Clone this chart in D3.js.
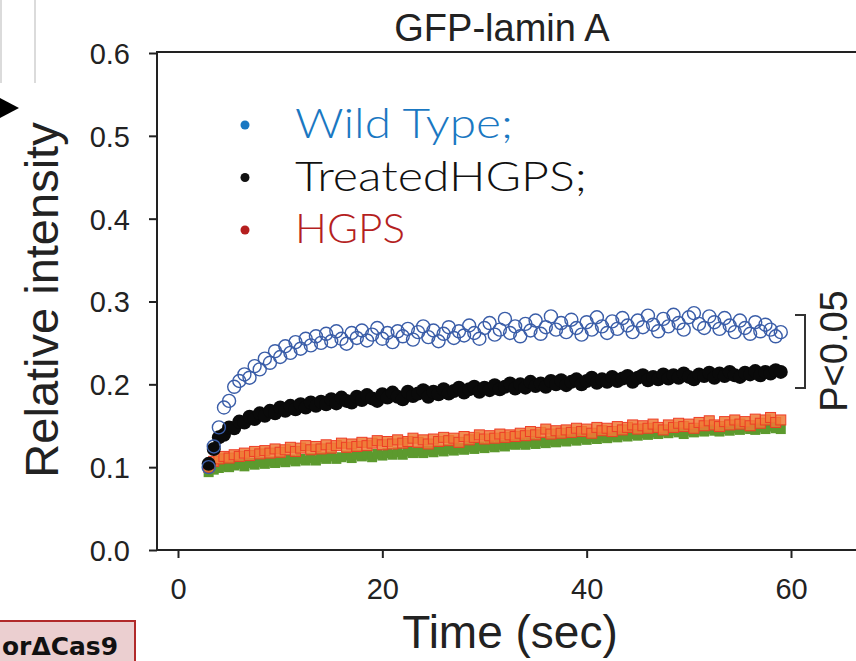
<!DOCTYPE html>
<html>
<head>
<meta charset="utf-8">
<script src="https://cdn.jsdelivr.net/npm/d3@7"></script>
<style>
  body { margin: 0; background: #fff; }
  svg { display: block; }
</style>
</head>
<body>
<div id="chart"></div>
<script>
// sampling: one frame every 0.5 s from 3 s to 59 s
const timeSec = d3.range(3, 59.01, 0.5);

// Wild Type, open blue circles
const wildType = [
  0.100, 0.125, 0.148, 0.172, 0.180, 0.197, 0.204, 0.212, 0.208, 0.222,
  0.218, 0.231, 0.226, 0.240, 0.233, 0.246, 0.238, 0.251, 0.243, 0.255,
  0.247, 0.258, 0.250, 0.261, 0.252, 0.264, 0.255, 0.249, 0.262, 0.256,
  0.265, 0.253, 0.260, 0.268, 0.255, 0.262, 0.251, 0.264, 0.258, 0.267,
  0.254, 0.263, 0.270, 0.257, 0.265, 0.252, 0.261, 0.269, 0.256, 0.264,
  0.259, 0.271, 0.262, 0.255, 0.268, 0.274, 0.260, 0.266, 0.279, 0.262,
  0.270, 0.258, 0.273, 0.265, 0.277, 0.261, 0.269, 0.282, 0.266, 0.274,
  0.263, 0.278, 0.268, 0.260, 0.275, 0.266, 0.281, 0.270, 0.262, 0.276,
  0.267, 0.280, 0.271, 0.263, 0.277, 0.269, 0.283, 0.272, 0.264, 0.279,
  0.270, 0.284, 0.274, 0.266, 0.281, 0.286, 0.273, 0.268, 0.282, 0.275,
  0.267, 0.280, 0.271, 0.263, 0.277, 0.268, 0.261, 0.275, 0.264, 0.272,
  0.266, 0.258, 0.263
];

// Treated HGPS, filled black circles
const treatedHGPS = [
  0.104, 0.122, 0.136, 0.139, 0.148, 0.147, 0.155, 0.154, 0.161, 0.158,
  0.165, 0.162, 0.168, 0.165, 0.172, 0.168, 0.174, 0.170, 0.176, 0.172,
  0.178, 0.174, 0.179, 0.176, 0.182, 0.177, 0.184, 0.180, 0.178, 0.185,
  0.181, 0.187, 0.183, 0.180, 0.188, 0.184, 0.190, 0.185, 0.182, 0.191,
  0.186, 0.189, 0.193, 0.185, 0.191, 0.188, 0.194, 0.189, 0.192, 0.196,
  0.190, 0.194, 0.197, 0.191, 0.196, 0.193, 0.199, 0.194, 0.197, 0.201,
  0.195, 0.200, 0.196, 0.203, 0.198, 0.201, 0.197, 0.204, 0.200, 0.205,
  0.199, 0.203, 0.206, 0.200, 0.204, 0.208, 0.202, 0.206, 0.203, 0.209,
  0.204, 0.207, 0.210, 0.203, 0.208, 0.211, 0.205, 0.209, 0.206, 0.212,
  0.207, 0.211, 0.208, 0.213, 0.209, 0.206, 0.212, 0.210, 0.214, 0.208,
  0.213, 0.210, 0.215, 0.211, 0.209, 0.214, 0.212, 0.216, 0.211, 0.215,
  0.213, 0.217, 0.215
];

// HGPS, open red squares
const hgps = [
  0.100, 0.107, 0.110, 0.113, 0.111, 0.115, 0.113, 0.117, 0.114, 0.119,
  0.116, 0.120, 0.117, 0.122, 0.118, 0.121, 0.124, 0.119, 0.123, 0.126,
  0.121, 0.125, 0.122, 0.127, 0.123, 0.126, 0.129, 0.124, 0.128, 0.125,
  0.130, 0.126, 0.129, 0.132, 0.127, 0.131, 0.128, 0.133, 0.129, 0.131,
  0.135, 0.130, 0.133, 0.128, 0.134, 0.131, 0.136, 0.132, 0.135, 0.130,
  0.137, 0.133, 0.136, 0.139, 0.134, 0.138, 0.135, 0.140, 0.136, 0.139,
  0.137, 0.141, 0.138, 0.143, 0.139, 0.142, 0.146, 0.140, 0.144, 0.141,
  0.145, 0.142, 0.147, 0.143, 0.146, 0.141, 0.148, 0.144, 0.147, 0.143,
  0.149, 0.145, 0.148, 0.151, 0.146, 0.150, 0.147, 0.152, 0.148, 0.145,
  0.151, 0.148, 0.153, 0.149, 0.152, 0.147, 0.154, 0.150, 0.156, 0.151,
  0.149, 0.155, 0.151, 0.157, 0.152, 0.155, 0.150, 0.158, 0.153, 0.157,
  0.160, 0.154, 0.157
];

// green filled squares (unlabelled series)
const greenSeries = [
  0.094, 0.097, 0.099, 0.101, 0.100, 0.102, 0.104, 0.101, 0.105, 0.103,
  0.106, 0.104, 0.107, 0.105, 0.108, 0.106, 0.109, 0.107, 0.110, 0.108,
  0.111, 0.108, 0.112, 0.110, 0.113, 0.110, 0.112, 0.114, 0.111, 0.115,
  0.113, 0.115, 0.112, 0.116, 0.114, 0.117, 0.115, 0.118, 0.115, 0.119,
  0.117, 0.119, 0.117, 0.120, 0.118, 0.121, 0.119, 0.122, 0.120, 0.123,
  0.121, 0.124, 0.122, 0.125, 0.123, 0.126, 0.124, 0.127, 0.125, 0.128,
  0.127, 0.129, 0.127, 0.130, 0.128, 0.131, 0.129, 0.132, 0.130, 0.133,
  0.131, 0.134, 0.132, 0.135, 0.133, 0.136, 0.134, 0.137, 0.135, 0.138,
  0.136, 0.139, 0.137, 0.140, 0.138, 0.141, 0.139, 0.142, 0.140, 0.143,
  0.141, 0.144, 0.142, 0.140, 0.144, 0.142, 0.145, 0.143, 0.146, 0.144,
  0.143, 0.146, 0.144, 0.147, 0.145, 0.148, 0.146, 0.145, 0.148, 0.146,
  0.149, 0.147, 0.146
];

const xTicks = [0, 20, 40, 60];
const yTicks = [0.0, 0.1, 0.2, 0.3, 0.4, 0.5, 0.6];
const legendLabels = ["Wild Type;", "TreatedHGPS;", "HGPS"];
const legendColors = ["#1a78c2", "#111111", "#b51f1f"];

const W = 856, H = 661;
const arial = "'Liberation Sans', Arial, sans-serif";

const svg = d3.select("#chart").append("svg")
    .attr("width", W)
    .attr("height", H);

// scales
const x = d3.scaleLinear().domain([0, 60]).range([178, 791]);
const y = d3.scaleLinear().domain([0, 0.6]).range([550, 53]);

// frame (right side runs off the picture)
svg.append("rect")
    .attr("x", 157).attr("y", 52)
    .attr("width", 740).attr("height", 498)
    .attr("fill", "none")
    .attr("stroke", "#222")
    .attr("stroke-width", 2);

// Y axis
const yAxis = svg.append("g")
    .attr("transform", "translate(157,0)")
    .call(d3.axisLeft(y).tickValues(yTicks).tickFormat(d3.format(".1f")).tickSize(8).tickPadding(19));
yAxis.select(".domain").remove();
yAxis.selectAll("line").attr("stroke", "#222").attr("stroke-width", 2);
yAxis.selectAll("text")
    .attr("font-family", arial)
    .attr("font-size", "29px")
    .attr("fill", "#222")
    .attr("dy", "0.36em");

// X axis
const xAxis = svg.append("g")
    .attr("transform", "translate(0,550)")
    .call(d3.axisBottom(x).tickValues(xTicks).tickSize(8).tickPadding(20));
xAxis.select(".domain").remove();
xAxis.selectAll("line").attr("stroke", "#222").attr("stroke-width", 2);
xAxis.selectAll("text")
    .attr("font-family", arial)
    .attr("font-size", "29px")
    .attr("fill", "#222");

// axis titles
svg.append("text")
    .attr("x", 510).attr("y", 648)
    .attr("text-anchor", "middle")
    .attr("font-family", arial)
    .attr("font-size", "46px")
    .attr("fill", "#222")
    .text("Time (sec)");

svg.append("text")
    .attr("transform", "translate(58,300) rotate(-90)")
    .attr("text-anchor", "middle")
    .attr("font-family", arial)
    .attr("font-size", "47px")
    .attr("fill", "#222")
    .text("Relative intensity");

svg.append("text")
    .attr("x", 502).attr("y", 41)
    .attr("text-anchor", "middle")
    .attr("font-family", arial)
    .attr("font-size", "38px")
    .attr("fill", "#222")
    .text("GFP-lamin A");

// data points
const sq = 10;
svg.append("g").selectAll("rect")
    .data(greenSeries)
    .enter().append("rect")
    .attr("x", (d, i) => x(timeSec[i]) - sq / 2)
    .attr("y", d => y(d) - sq / 2)
    .attr("width", sq).attr("height", sq)
    .attr("fill", "#5c9a2e");

svg.append("g").selectAll("rect")
    .data(hgps)
    .enter().append("rect")
    .attr("x", (d, i) => x(timeSec[i]) - sq / 2)
    .attr("y", d => y(d) - sq / 2)
    .attr("width", sq).attr("height", sq)
    .attr("fill", "#ef7a35")
    .attr("fill-opacity", 0.85)
    .attr("stroke", "#ee3d26")
    .attr("stroke-width", 1);

svg.append("g").selectAll("circle")
    .data(treatedHGPS)
    .enter().append("circle")
    .attr("cx", (d, i) => x(timeSec[i]))
    .attr("cy", d => y(d))
    .attr("r", 7)
    .attr("fill", "#0a0a0a");

svg.append("g").selectAll("circle")
    .data(wildType)
    .enter().append("circle")
    .attr("cx", (d, i) => x(timeSec[i]))
    .attr("cy", d => y(d))
    .attr("r", 6.5)
    .attr("fill", "none")
    .attr("stroke", "#3a5da8")
    .attr("stroke-width", 1.4);

// significance bracket
svg.append("path")
    .attr("d", "M795,315 H805 V388 H795")
    .attr("fill", "none")
    .attr("stroke", "#333")
    .attr("stroke-width", 2);

svg.append("text")
    .attr("transform", "translate(847,351) rotate(-90)")
    .attr("text-anchor", "middle")
    .attr("font-family", arial)
    .attr("font-size", "38px")
    .attr("fill", "#222")
    .text("P<0.05");

// legend
const legendWidths = [218, 292, 110];
const legend = svg.append("g");
legendLabels.forEach((label, i) => {
    legend.append("circle")
        .attr("cx", 245).attr("cy", 125 + i * 52.5)
        .attr("r", 4.5)
        .attr("fill", legendColors[i]);
    legend.append("text")
        .attr("x", 295).attr("y", 138 + i * 52.5)
        .attr("font-family", "Lato, 'DejaVu Sans', sans-serif")
        .attr("font-weight", 300)
        .attr("font-size", "41px")
        .attr("fill", legendColors[i])
        .attr("textLength", legendWidths[i])
        .attr("lengthAdjust", "spacingAndGlyphs")
        .text(label);
});

// slide leftovers: box at top-left, arrow, label box at bottom-left
svg.append("line").attr("x1", 1).attr("y1", 0).attr("x2", 1).attr("y2", 83)
    .attr("stroke", "#cfcfcf").attr("stroke-width", 1.5);
svg.append("line").attr("x1", 35).attr("y1", 0).attr("x2", 35).attr("y2", 83)
    .attr("stroke", "#cfcfcf").attr("stroke-width", 1.5);
svg.append("path")
    .attr("d", "M0,98 L19,108 L0,118 Z")
    .attr("fill", "#000");

svg.append("rect")
    .attr("x", -5).attr("y", 621)
    .attr("width", 140).attr("height", 50)
    .attr("fill", "#ebcfd0")
    .attr("stroke", "#b12a2a")
    .attr("stroke-width", 2);
svg.append("text")
    .attr("x", 2).attr("y", 655)
    .attr("font-family", "'DejaVu Sans', sans-serif")
    .attr("font-weight", "bold")
    .attr("font-size", "24px")
    .attr("fill", "#111")
    .attr("textLength", 116)
    .attr("lengthAdjust", "spacingAndGlyphs")
    .text("orΔCas9");
</script>
</body>
</html>
